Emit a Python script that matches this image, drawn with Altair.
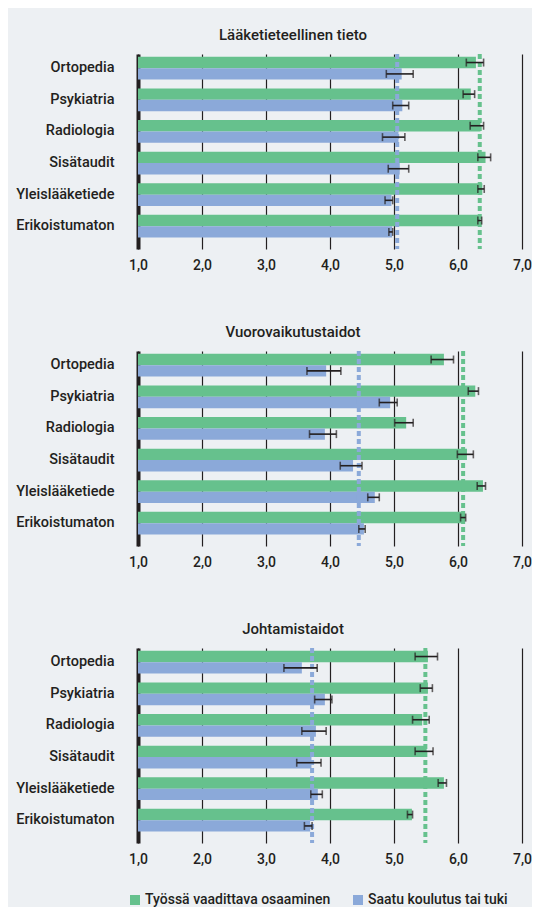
import altair as alt
import pandas as pd

# ---------------- data ----------------
categories = ["Ortopedia", "Psykiatria", "Radiologia", "Sisätaudit",
              "Yleislääketiede", "Erikoistumaton"]
series = ["Työssä vaadittava osaaminen", "Saatu koulutus tai tuki"]
panel_titles = ["Lääketieteellinen tieto", "Vuorovaikutustaidot", "Johtamistaidot"]

# Panel 1: Lääketieteellinen tieto
p1_req = [6.28, 6.20, 6.35, 6.43, 6.38, 6.35]
p1_req_lo = [6.13, 6.08, 6.19, 6.31, 6.31, 6.31]
p1_req_hi = [6.40, 6.26, 6.40, 6.51, 6.41, 6.37]
p1_got = [5.12, 5.13, 5.07, 5.09, 4.96, 4.97]
p1_got_lo = [4.88, 4.98, 4.82, 4.91, 4.86, 4.92]
p1_got_hi = [5.30, 5.23, 5.17, 5.23, 4.98, 4.98]

# Panel 2: Vuorovaikutustaidot
p2_req = [5.78, 6.27, 5.19, 6.14, 6.39, 6.11]
p2_req_lo = [5.58, 6.16, 5.01, 5.99, 6.30, 6.04]
p2_req_hi = [5.93, 6.32, 5.30, 6.24, 6.43, 6.12]
p2_got = [3.94, 4.94, 3.92, 4.36, 4.70, 4.53]
p2_got_lo = [3.64, 4.77, 3.68, 4.16, 4.59, 4.45]
p2_got_hi = [4.17, 5.05, 4.10, 4.50, 4.77, 4.55]

# Panel 3: Johtamistaidot
p3_req = [5.53, 5.53, 5.44, 5.51, 5.78, 5.28]
p3_req_lo = [5.33, 5.41, 5.29, 5.33, 5.69, 5.21]
p3_req_hi = [5.68, 5.60, 5.55, 5.61, 5.82, 5.29]
p3_got = [3.56, 3.92, 3.78, 3.71, 3.81, 3.69]
p3_got_lo = [3.28, 3.76, 3.56, 3.48, 3.70, 3.60]
p3_got_hi = [3.80, 4.03, 3.94, 3.86, 3.88, 3.72]

# dashed average lines per panel
avg_req = [6.34, 6.08, 5.49]
avg_got = [5.05, 4.45, 3.72]

x_ticks = [1, 2, 3, 4, 5, 6, 7]

# ---------------- style ----------------
GREEN = "#66C18D"
BLUE = "#8BA9D9"
INK = "#231F20"
BG = "#EDF0F3"
FONT = "Roboto"

panels_data = [
    (p1_req, p1_req_lo, p1_req_hi, p1_got, p1_got_lo, p1_got_hi),
    (p2_req, p2_req_lo, p2_req_hi, p2_got, p2_got_lo, p2_got_hi),
    (p3_req, p3_req_lo, p3_req_hi, p3_got, p3_got_lo, p3_got_hi),
]

xscale = alt.Scale(domain=[1, 7], nice=False, zero=False)
color_scale = alt.Scale(domain=series, range=[GREEN, BLUE])
legend = alt.Legend(orient="bottom", direction="horizontal", title=None,
                    symbolType="square", symbolSize=100, symbolOffset=-10,
                    symbolStrokeWidth=0, labelFontSize=14,
                    labelFont=FONT, labelColor=INK, labelLimit=0,
                    labelFontWeight=500, offset=27,
                    columnPadding=22, labelOffset=3)


def make_panel(i):
    req, req_lo, req_hi, got, got_lo, got_hi = panels_data[i]
    rows = []
    for c, m, lo, hi in zip(categories, req, req_lo, req_hi):
        rows.append({"category": c, "series": series[0], "mean": m, "lo": lo, "hi": hi})
    for c, m, lo, hi in zip(categories, got, got_lo, got_hi):
        rows.append({"category": c, "series": series[1], "mean": m, "lo": lo, "hi": hi})
    df = pd.DataFrame(rows)
    avg_df = pd.DataFrame({"series": series,
                           "avg": [avg_req[i], avg_got[i]],
                           "col": [GREEN, BLUE]})

    y = alt.Y("category:N", sort=categories, title=None,
              scale=alt.Scale(paddingInner=0.28, paddingOuter=0.225, align=0.2),
              axis=alt.Axis(domain=True, domainColor=INK, domainWidth=4,
                            ticks=False, tickSize=0, labelPadding=24, grid=False,
                            labelFontSize=14.5, minExtent=130, maxExtent=130))
    yo = alt.YOffset("series:N", sort=series,
                     scale=alt.Scale(paddingInner=0, paddingOuter=0))
    xaxis = alt.Axis(values=x_ticks,
                     labelExpr="replace(format(datum.value, '.1f'), '.', ',')",
                     grid=True, gridColor=INK, gridWidth=1.2, domain=False,
                     ticks=False, labelPadding=9, labelFlush=False,
                     labelFontSize=14, title=None)

    bars = alt.Chart(df).mark_bar().encode(
        x=alt.X("mean:Q", scale=xscale, axis=xaxis),
        x2=alt.X2(datum=1),
        y=y,
        yOffset=yo,
        color=alt.Color("series:N", scale=color_scale, legend=legend),
    )
    avg_rules = alt.Chart(avg_df).mark_rule(strokeWidth=4, strokeDash=[5, 3]).encode(
        x=alt.X("avg:Q", scale=xscale),
        color=alt.Color("col:N", scale=None),
    )
    err = alt.Chart(df).mark_rule(color=INK, strokeWidth=1.6).encode(
        x=alt.X("lo:Q", scale=xscale), x2="hi:Q", y=y, yOffset=yo)
    cap_lo = alt.Chart(df).mark_tick(color=INK, thickness=1.6, size=8).encode(
        x=alt.X("lo:Q", scale=xscale), y=y, yOffset=yo)
    cap_hi = alt.Chart(df).mark_tick(color=INK, thickness=1.6, size=8).encode(
        x=alt.X("hi:Q", scale=xscale), y=y, yOffset=yo)

    return alt.layer(bars, avg_rules, err, cap_lo, cap_hi).properties(
        width=384, height=195,
        title=alt.TitleParams(text=panel_titles[i], anchor="middle", frame="group",
                              dx=-37, offset=9),
    )


chart = alt.vconcat(make_panel(0), make_panel(1), make_panel(2), spacing=53).properties(
    background=BG,
    padding={"left": 0, "top": 20, "right": 0, "bottom": 0},
).configure_view(stroke=None).configure_axis(
    labelFont=FONT, labelColor=INK, labelFontWeight=500,
).configure_title(
    font=FONT, fontSize=15, fontWeight=500, color=INK,
)

chart.save("out.html", embed_options={"renderer": "svg", "actions": False})
